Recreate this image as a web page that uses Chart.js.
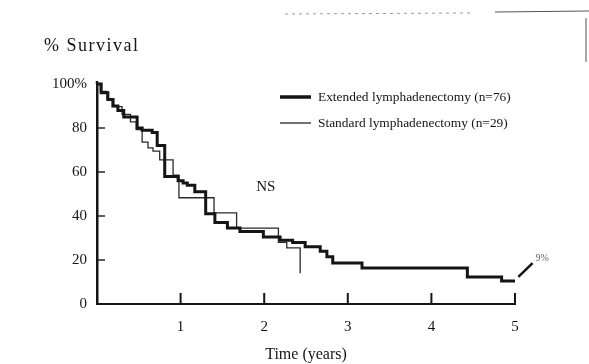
<!DOCTYPE html>
<html>
<head>
<meta charset="utf-8">
<script src="https://cdn.jsdelivr.net/npm/chart.js@4"></script>
<style>
  html, body { margin: 0; padding: 0; background: #fff; }
  #wrap { position: relative; width: 589px; height: 364px; }
</style>
</head>
<body>
<div id="wrap"><canvas id="kmChart" width="589" height="364"></canvas></div>
<script>
// Kaplan-Meier curves (time in years, % survival after each step)
const extTimes = [0, 0.05, 0.13, 0.19, 0.25, 0.32, 0.48, 0.54, 0.66, 0.72, 0.81, 0.97, 1.03, 1.08, 1.17, 1.30, 1.41, 1.56, 1.71, 1.99, 2.19, 2.34, 2.49, 2.67, 2.75, 2.82, 3.17, 4.43, 4.84, 5.0];
const extSurv  = [100, 96, 93, 90, 88, 85, 80, 79, 78, 72, 58, 56, 55, 54, 51, 41, 37, 34.5, 33, 30.5, 29, 28, 26, 24, 21.5, 18.6, 16.4, 12.3, 10.5, 10.5];

const stdTimes = [0, 0.04, 0.12, 0.20, 0.30, 0.40, 0.47, 0.54, 0.61, 0.67, 0.75, 0.91, 0.98, 1.40, 1.67, 2.17, 2.27, 2.43];
const stdSurv  = [100, 96.6, 93.1, 89.7, 86.2, 82.8, 79.3, 73.6, 71, 69.5, 65.5, 58.6, 48.3, 41.4, 34.5, 28, 25.5, 14];

const xTicks = [1, 2, 3, 4, 5];
const yTicks = [20, 40, 60, 80];
const legendLabels = ["Extended lymphadenectomy (n=76)", "Standard lymphadenectomy (n=29)"];

// annotations (data units)
const nsLabel = { text: "NS", x: 2.02, y: 53 };
const endNote = { text: "9%", from: [5.04, 12.3], to: [5.21, 18.6] };

const serif = "'Liberation Serif', 'DejaVu Serif', serif";
const ink = "#151515";

function toPoints(ts, ss) {
  return ts.map((t, i) => ({ x: t, y: ss[i] }));
}

const extras = {
  id: 'extras',
  afterDraw(chart) {
    const ctx = chart.ctx;
    const xs = chart.scales.x, ys = chart.scales.y;
    const area = chart.chartArea;
    ctx.save();
    ctx.strokeStyle = ink;
    ctx.fillStyle = ink;

    // y axis heading
    ctx.font = "18px " + serif;
    ctx.textBaseline = "middle";
    ctx.letterSpacing = "1.5px";
    ctx.fillText("% Survival", 44, 46);
    ctx.letterSpacing = "0px";

    // inward tick marks
    ctx.lineWidth = 1.4;
    yTicks.forEach(v => {
      const py = ys.getPixelForValue(v);
      ctx.beginPath();
      ctx.moveTo(area.left, py);
      ctx.lineTo(area.left + 8, py);
      ctx.stroke();
    });
    ctx.lineWidth = 2;
    xTicks.forEach(v => {
      const px = xs.getPixelForValue(v);
      ctx.beginPath();
      ctx.moveTo(px, area.bottom);
      ctx.lineTo(px, area.bottom - 11);
      ctx.stroke();
    });
    // axis runs a little past 100%
    ctx.lineWidth = 2.5;
    ctx.beginPath(); ctx.moveTo(area.left, area.top); ctx.lineTo(area.left, area.top - 3); ctx.stroke();

    // legend
    ctx.font = "13.4px " + serif;
    ctx.lineWidth = 3.5;
    ctx.beginPath(); ctx.moveTo(280, 97); ctx.lineTo(311, 97); ctx.stroke();
    ctx.fillText(legendLabels[0], 318, 97);
    ctx.lineWidth = 1.2;
    ctx.beginPath(); ctx.moveTo(280, 123); ctx.lineTo(311, 123); ctx.stroke();
    ctx.fillText(legendLabels[1], 318, 123);

    // NS
    ctx.font = "15px " + serif;
    ctx.textAlign = "center";
    ctx.fillText(nsLabel.text, xs.getPixelForValue(nsLabel.x), ys.getPixelForValue(nsLabel.y));

    // arrow to final value
    const ax1 = xs.getPixelForValue(endNote.from[0]), ay1 = ys.getPixelForValue(endNote.from[1]);
    const ax2 = xs.getPixelForValue(endNote.to[0]), ay2 = ys.getPixelForValue(endNote.to[1]);
    ctx.lineWidth = 2.5;
    ctx.beginPath(); ctx.moveTo(ax1, ay1); ctx.lineTo(ax2, ay2); ctx.stroke();
    ctx.fillStyle = "#666";
    ctx.font = "10px " + serif;
    ctx.textAlign = "left";
    ctx.fillText(endNote.text, ax2 + 3, ay2 - 5);

    // scan leftovers
    ctx.strokeStyle = "#999";
    ctx.lineWidth = 1;
    ctx.setLineDash([3, 4]);
    ctx.beginPath(); ctx.moveTo(285, 14); ctx.lineTo(470, 13); ctx.stroke();
    ctx.setLineDash([]);
    ctx.strokeStyle = "#555";
    ctx.beginPath(); ctx.moveTo(495, 12); ctx.lineTo(589, 11); ctx.stroke();
    ctx.beginPath(); ctx.moveTo(586, 18); ctx.lineTo(586, 62); ctx.stroke();
    ctx.restore();
  }
};

const ctx = document.getElementById('kmChart').getContext('2d');
new Chart(ctx, {
  type: 'line',
  data: {
    datasets: [
      {
        label: legendLabels[0],
        data: toPoints(extTimes, extSurv),
        borderColor: ink,
        borderWidth: 3,
        stepped: 'before',
        pointRadius: 0,
        fill: false,
        clip: false
      },
      {
        label: legendLabels[1],
        data: toPoints(stdTimes, stdSurv),
        borderColor: '#2a2a2a',
        borderWidth: 1.3,
        stepped: 'before',
        pointRadius: 0,
        fill: false,
        clip: false
      }
    ]
  },
  options: {
    responsive: false,
    animation: false,
    layout: { padding: { left: 0, right: 74, top: 84, bottom: 0 } },
    plugins: {
      legend: { display: false },
      tooltip: { enabled: false },
      title: { display: false }
    },
    scales: {
      x: {
        type: 'linear',
        min: 0,
        max: 5,
        afterFit: s => { s.height = 60; },
        ticks: {
          stepSize: 1,
          padding: 14,
          color: ink,
          font: { family: serif, size: 15 },
          callback: v => (v === 0 ? '' : v)
        },
        grid: { display: false, drawTicks: false },
        border: { color: ink, width: 2 },
        title: {
          display: true,
          text: 'Time (years)',
          color: ink,
          font: { family: serif, size: 16 },
          padding: { top: 0, bottom: 0 }
        }
      },
      y: {
        min: 0,
        max: 100,
        afterFit: s => { s.width = 97; },
        ticks: {
          stepSize: 20,
          padding: 10,
          color: ink,
          font: { family: serif, size: 15 },
          callback: v => (v === 100 ? '100%' : v)
        },
        grid: { display: false, drawTicks: false },
        border: { color: ink, width: 2.5 }
      }
    }
  },
  plugins: [extras]
});
</script>
</body>
</html>
